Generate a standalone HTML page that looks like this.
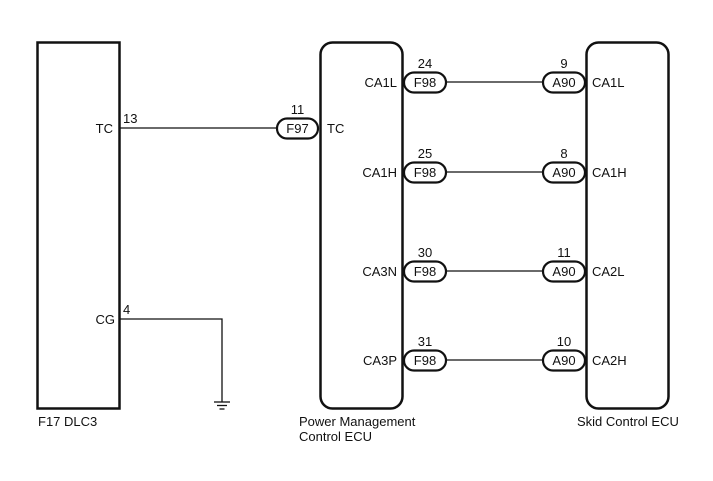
<!DOCTYPE html>
<html><head><meta charset="utf-8"><style>
html,body{margin:0;padding:0;background:#fff;}
svg{display:block;}
text{font-family:"Liberation Sans",Arial,sans-serif;font-size:13px;fill:#111;}
</style></head><body>
<svg width="713" height="481" viewBox="0 0 713 481" xmlns="http://www.w3.org/2000/svg">
<g fill="none" stroke="#111" stroke-width="2.5">
<rect x="37.5" y="42.5" width="82" height="366"/>
<rect x="320.5" y="42.5" width="82" height="366" rx="12"/>
<rect x="586.5" y="42.5" width="82" height="366" rx="12"/>
</g>
<g stroke="#111" stroke-width="1.3" fill="none">
<line x1="120" y1="128" x2="278" y2="128"/>
<polyline points="120,319 222,319 222,402"/>
<line x1="214" y1="402" x2="230" y2="402"/>
<line x1="217" y1="405.5" x2="227" y2="405.5"/>
<line x1="219.5" y1="409" x2="224.5" y2="409"/>
<line x1="447" y1="82" x2="543" y2="82"/>
<line x1="447" y1="172" x2="543" y2="172"/>
<line x1="447" y1="271" x2="543" y2="271"/>
<line x1="447" y1="360" x2="543" y2="360"/>
</g>
<g fill="#fff" stroke="#111" stroke-width="2.2">
<rect x="277" y="118.5" width="41" height="20" rx="10"/>
<rect x="404" y="72.5" width="42" height="20" rx="10"/>
<rect x="404" y="162.5" width="42" height="20" rx="10"/>
<rect x="404" y="261.5" width="42" height="20" rx="10"/>
<rect x="404" y="350.5" width="42" height="20" rx="10"/>
<rect x="543" y="72.5" width="42" height="20" rx="10"/>
<rect x="543" y="162.5" width="42" height="20" rx="10"/>
<rect x="543" y="261.5" width="42" height="20" rx="10"/>
<rect x="543" y="350.5" width="42" height="20" rx="10"/>
</g>
<g text-anchor="middle">
<text x="297.5" y="133">F97</text>
<text x="425" y="87">F98</text><text x="425" y="177">F98</text><text x="425" y="276">F98</text><text x="425" y="365">F98</text>
<text x="564" y="87">A90</text><text x="564" y="177">A90</text><text x="564" y="276">A90</text><text x="564" y="365">A90</text>
<text x="297.5" y="114">11</text>
<text x="425" y="68">24</text><text x="425" y="158">25</text><text x="425" y="257">30</text><text x="425" y="346">31</text>
<text x="564" y="68">9</text><text x="564" y="158">8</text><text x="564" y="257">11</text><text x="564" y="346">10</text>
</g>
<g text-anchor="end">
<text x="113" y="133">TC</text>
<text x="115" y="324">CG</text>
<text x="397" y="87">CA1L</text><text x="397" y="177">CA1H</text><text x="397" y="276">CA3N</text><text x="397" y="365">CA3P</text>
</g>
<text x="123" y="123">13</text>
<text x="123" y="314">4</text>
<text x="327" y="133">TC</text>
<text x="592" y="87">CA1L</text><text x="592" y="177">CA1H</text><text x="592" y="276">CA2L</text><text x="592" y="365">CA2H</text>
<text x="38" y="426">F17  DLC3</text>
<text x="299" y="426">Power Management</text>
<text x="299" y="441">Control ECU</text>
<text x="577" y="426">Skid Control ECU</text>
</svg>
</body></html>
